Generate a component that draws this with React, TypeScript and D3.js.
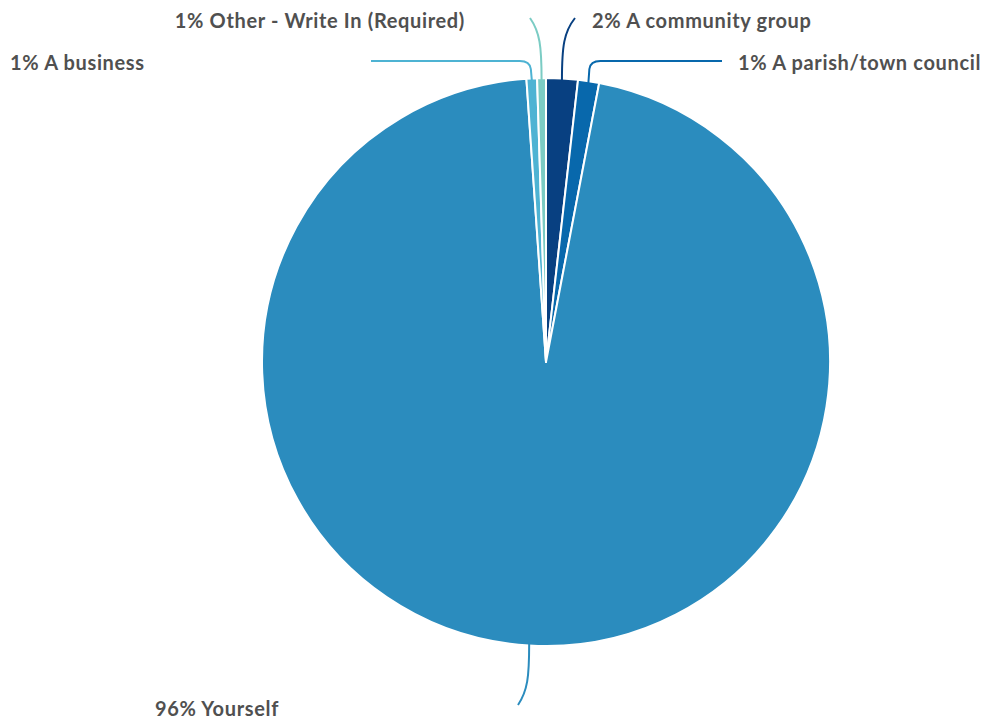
import React from "react";
import * as d3 from "d3";

const categories = ["A community group", "A parish/town council", "Yourself", "A business", "Other - Write In (Required)"];
const values = [1.8, 1.2, 95.9, 0.6, 0.5];
const percentLabels = ["2%", "1%", "96%", "1%", "1%"];
const colors = ["#084081", "#0868ac", "#2b8cbe", "#4eb3d3", "#7bccc4"];

const W = 985;
const H = 719;
const cx = 546;
const cy = 362;
const R = 284;

type Lay = { kind: "vert" | "horiz"; endX: number; endY: number; tx: number; ty: number; anchor: string };
const layouts: Lay[] = [
  { kind: "vert", endX: cx + 29, endY: cy - R - 60, tx: 592, ty: cy - R - 50, anchor: "start" },
  { kind: "horiz", endX: 722, endY: cy - R - 17, tx: 738, ty: cy - R - 8, anchor: "start" },
  { kind: "vert", endX: cx - 28, endY: cy + R + 59, tx: 155, ty: cy + R + 70, anchor: "start" },
  { kind: "horiz", endX: 371, endY: cy - R - 17, tx: 10, ty: cy - R - 8, anchor: "start" },
  { kind: "vert", endX: cx - 16, endY: cy - R - 60, tx: 465, ty: cy - R - 50, anchor: "end" },
];

export default function App() {
  const pie = d3.pie<number>().sort(null).value((d) => d).startAngle(0).endAngle(2 * Math.PI);
  const arcs = pie(values);
  const arcGen = d3.arc<d3.PieArcDatum<number>>().innerRadius(0).outerRadius(R);

  const leader = (a: d3.PieArcDatum<number>, lay: Lay) => {
    const mid = (a.startAngle + a.endAngle) / 2;
    const sx = cx + Math.sin(mid) * (R - 2);
    const sy = cy - Math.cos(mid) * (R - 2);
    const p = d3.path();
    p.moveTo(sx, sy);
    if (lay.kind === "horiz") {
      const dir = lay.endX > sx ? 1 : -1;
      const cornerY = lay.endY;
      p.lineTo(sx + dir * 1, cornerY + 8);
      p.quadraticCurveTo(sx + dir * 2, cornerY, sx + dir * 12, cornerY);
      p.lineTo(lay.endX, lay.endY);
    } else {
      const down = lay.endY > sy ? 1 : -1;
      const midY = sy + down * Math.abs(lay.endY - sy) * 0.55;
      p.bezierCurveTo(sx, midY, sx + (lay.endX - sx) * 0.15, lay.endY - down * 14, lay.endX, lay.endY);
    }
    return p.toString();
  };

  return (
    <svg width={W} height={H} style={{ position: "absolute", left: 0, top: 0 }}>
      <rect width={W} height={H} fill="#ffffff" />
      <g>
        {arcs.map((a, i) => (
          <path key={i} d={arcGen(a) || ""} transform={`translate(${cx},${cy})`} fill={colors[i]} stroke="#ffffff" strokeWidth={2} strokeLinejoin="round" />
        ))}
      </g>
      <g fill="none" strokeWidth={2}>
        {arcs.map((a, i) => (
          <path key={i} d={leader(a, layouts[i])} stroke={colors[i]} />
        ))}
      </g>
      <g fontFamily="Lato, 'Noto Sans', sans-serif" fontWeight={700} fontSize={20} letterSpacing={0.65} fill="#505050">
        {arcs.map((a, i) => (
          <text key={i} x={layouts[i].tx} y={layouts[i].ty} textAnchor={layouts[i].anchor}>
            {`${percentLabels[i]} ${categories[i]}`}
          </text>
        ))}
      </g>
    </svg>
  );
}
